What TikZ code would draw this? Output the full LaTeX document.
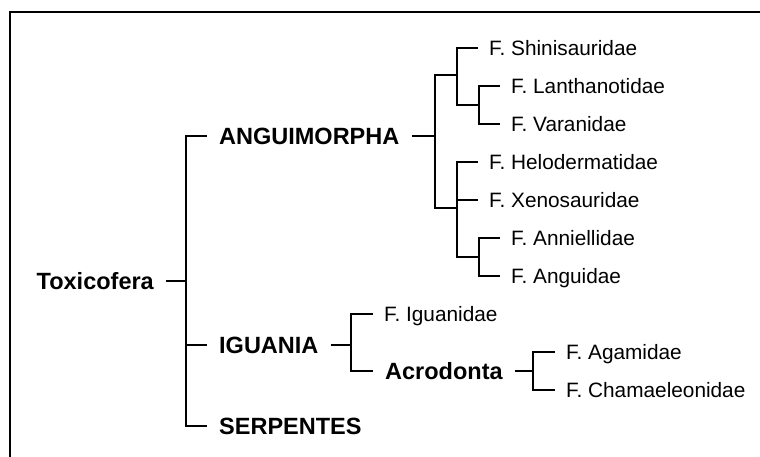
\documentclass[tikz,border=0pt]{standalone}
\usepackage{fontspec}
\setmainfont{Liberation Sans}
\begin{document}
\begin{tikzpicture}[x=1pt,y=-1pt,
  edge/.style={line width=1.9pt, line join=miter},
  leaf/.style={anchor=west, inner xsep=11pt, inner ysep=0pt, text height=15pt, text depth=0pt,
    font=\fontsize{20.8}{24}\selectfont},
  clade/.style={anchor=west, inner xsep=12pt, inner ysep=0pt, text height=16.8pt, text depth=0pt,
    font=\bfseries\fontsize{23.5}{27}\selectfont},
  frameline/.style={line width=2pt}]
\useasboundingbox (0,0) rectangle (760,457);
% frame
\coordinate (fb) at (10,457);
\coordinate (fc) at (10,12);
\coordinate (fr) at (760,12);
\draw[frameline] (fb) -- (fc) -- (fr);

% nodes
\node[clade, anchor=east] (tox) at (166,281) {Toxicofera};
\node[clade] (ang) at (207,136) {ANGUIMORPHA};
\node[clade] (igu) at (207,345) {IGUANIA};
\node[clade] (ser) at (207,426) {SERPENTES};

\node[leaf] (shi) at (478,48) {F. Shinisauridae};
\node[leaf] (lan) at (500,86) {F. Lanthanotidae};
\node[leaf] (var) at (500,124) {F. Varanidae};
\node[leaf] (hel) at (478,162) {F. Helodermatidae};
\node[leaf] (xen) at (478,200) {F. Xenosauridae};
\node[leaf] (ann) at (500,238) {F. Anniellidae};
\node[leaf] (agd) at (500,276) {F. Anguidae};

\node[leaf] (iga) at (373,314) {F. Iguanidae};
\node[clade] (acr) at (373,371) {Acrodonta};
\node[leaf] (aga) at (555,352) {F. Agamidae};
\node[leaf] (cha) at (555,390) {F. Chamaeleonidae};

% junctions
\coordinate (bT) at (186,281);
\coordinate (bA) at (435,136);
\coordinate (jA1) at (457,75);
\coordinate (jL) at (479,105);
\coordinate (jA2) at (457,208);
\coordinate (jN) at (479,257);
\coordinate (bI) at (351,345);
\coordinate (bAc) at (533,371);

% connectors
\draw[edge] (tox.east) -- (bT);
\draw[edge] (bT) |- (ang.west);
\draw[edge] (bT) |- (igu.west);
\draw[edge] (bT) |- (ser.west);

\draw[edge] (ang.east) -- (bA);
\draw[edge] (bA) |- (jA1);
\draw[edge] (bA) |- (jA2);
\draw[edge] (jA1) |- (shi.west);
\draw[edge] (jA1) |- (jL);
\draw[edge] (jL) |- (lan.west);
\draw[edge] (jL) |- (var.west);
\draw[edge] (jA2) |- (hel.west);
\draw[edge] (jA2) |- (xen.west);
\draw[edge] (jA2) |- (jN);
\draw[edge] (jN) |- (ann.west);
\draw[edge] (jN) |- (agd.west);

\draw[edge] (igu.east) -- (bI);
\draw[edge] (bI) |- (iga.west);
\draw[edge] (bI) |- (acr.west);
\draw[edge] (acr.east) -- (bAc);
\draw[edge] (bAc) |- (aga.west);
\draw[edge] (bAc) |- (cha.west);
\end{tikzpicture}
\end{document}
